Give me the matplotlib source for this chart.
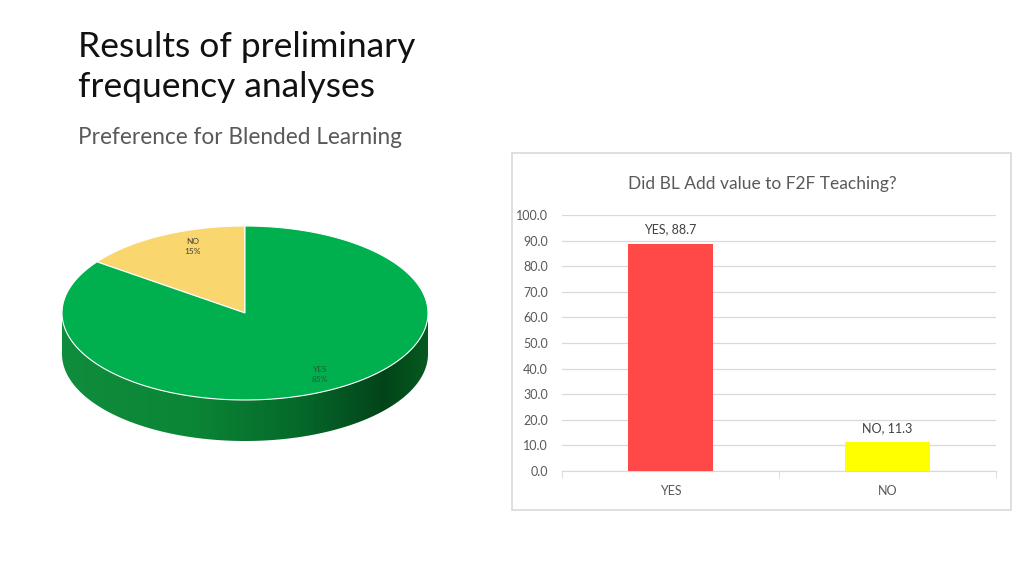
import numpy as np
import matplotlib
matplotlib.use("Agg")
import matplotlib.pyplot as plt
from matplotlib.patches import Polygon, Rectangle
from matplotlib.colors import LinearSegmentedColormap

plt.rcParams['font.family'] = ['Lato', 'DejaVu Sans']

# Daten
pie_labels = ['NO', 'YES']
pie_shares = [15, 85]
pie_colors = ['#fad66e', '#00b04f']

bar_categories = ['YES', 'NO']
bar_values = [88.7, 11.3]
bar_colors = ['#ff4848', '#ffff00']
y_ticks = [0, 10, 20, 30, 40, 50, 60, 70, 80, 90, 100]

fig = plt.figure(figsize=(10.24, 5.76), dpi=100)
ax0 = fig.add_axes([0, 0, 1, 1])
ax0.set_xlim(0, 1024)
ax0.set_ylim(576, 0)
ax0.axis('off')

# Überschriften
ax0.text(78, 57, 'Results of preliminary', fontsize=25.5, color='#111111', va='baseline')
ax0.text(78, 97, 'frequency analyses', fontsize=25.5, color='#111111', va='baseline')
ax0.text(78, 144, 'Preference for Blended Learning', fontsize=16.3, color='#595959', va='baseline')

# 3D-Torte (Ellipse in Pixelkoordinaten)
cx, cy, rx, ry, depth = 245, 313, 183, 87, 41

def ell(t):
    t = np.radians(t)
    return cx + rx * np.cos(t), cy - ry * np.sin(t)

# Seitenfläche mit Verlauf
t = np.linspace(180, 360, 200)
xs, ys = ell(t)
side = np.concatenate([np.column_stack([xs, ys]), np.column_stack([xs[::-1], ys[::-1] + depth])])
side_poly = Polygon(side, closed=True, facecolor='none', edgecolor='none')
ax0.add_patch(side_poly)
cmap = LinearSegmentedColormap.from_list('side', [
    (0.0, '#0f8c3c'), (0.35, '#0b8636'), (0.65, '#05692a'), (0.88, '#024419'), (1.0, '#06591f')])
grad = np.linspace(0, 1, 256).reshape(1, -1)
im = ax0.imshow(grad, cmap=cmap, extent=(cx - rx, cx + rx, cy + ry + depth, cy), aspect='auto', zorder=1)
im.set_clip_path(side_poly)
ax0.set_xlim(0, 1024)
ax0.set_ylim(576, 0)

# Oberseite: Segmente aus den Anteilen
start = 90
for lab, share, col in zip(pie_labels, pie_shares, pie_colors):
    span = 360 * share / sum(pie_shares)
    tt = np.linspace(start, start + span, 200)
    px, py = ell(tt)
    pts = np.vstack([[cx, cy], np.column_stack([px, py])])
    ax0.add_patch(Polygon(pts, closed=True, facecolor=col, edgecolor='white', lw=0.8, zorder=2))
    start += span

# Beschriftungen der Torte
ax0.text(193, 246, 'NO\n15%', fontsize=6, color='#404040', ha='center', va='center',
         linespacing=1.5, zorder=3)
ax0.text(320, 374, 'YES\n85%', fontsize=6, color='#2a5a35', ha='center', va='center',
         linespacing=1.5, zorder=3)

# Rahmen des Balkendiagramms
ax0.add_patch(Rectangle((512, 153), 499, 357, facecolor='none', edgecolor='#d9d9d9', lw=1.2))
ax0.text(762, 189, 'Did BL Add value to F2F Teaching?', fontsize=12.5, color='#595959',
         ha='center', va='baseline')

# Balkendiagramm
ax = fig.add_axes([562 / 1024, 1 - 471 / 576, 434 / 1024, 256 / 576])
ax.patch.set_alpha(0)
x = np.arange(len(bar_categories))
bars = ax.bar(x, bar_values, width=0.39, color=bar_colors, zorder=3)
ax.set_xlim(-0.5, len(bar_categories) - 0.5)
ax.set_ylim(0, 100)
ax.set_yticks(y_ticks)
ax.set_yticklabels([f'{v:.1f}' for v in y_ticks])
ax.grid(axis='y', color='#d9d9d9', lw=0.9, zorder=0)
for s in ['top', 'right', 'left']:
    ax.spines[s].set_visible(False)
ax.spines['bottom'].set_color('#d9d9d9')
ax.tick_params(axis='y', length=0, labelsize=9, labelcolor='#595959', pad=10)
ax.set_xticks(x)
ax.set_xticklabels(bar_categories)
ax.tick_params(axis='x', length=0, labelsize=9, labelcolor='#595959', pad=10)
ax.set_xticks(np.arange(len(bar_categories) + 1) - 0.5, minor=True)
ax.tick_params(axis='x', which='minor', length=5, color='#d9d9d9')

for b, cat, v in zip(bars, bar_categories, bar_values):
    ax.annotate(f'{cat}, {v:.1f}', (b.get_x() + b.get_width() / 2, v),
                xytext=(0, 6), textcoords='offset points', ha='center', va='bottom',
                fontsize=9, color='#404040')

fig.savefig('out.png', dpi=100, facecolor='white')
